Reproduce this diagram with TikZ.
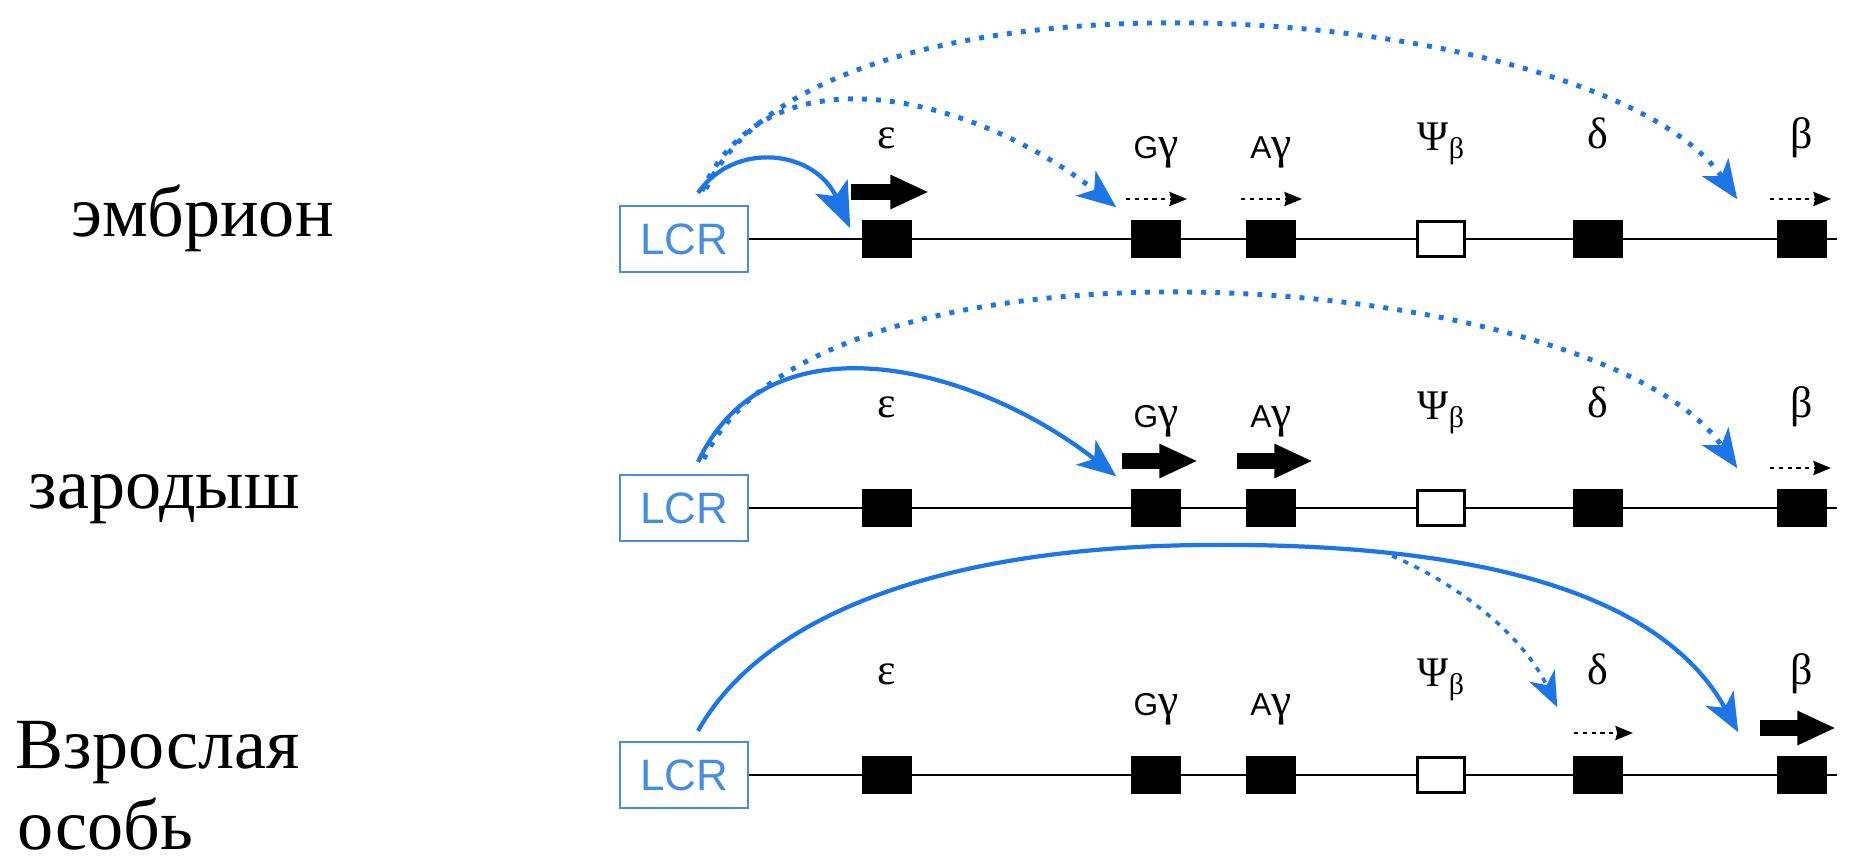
\documentclass[tikz,border=0pt]{standalone}
\usepackage{fontspec}
\setmainfont{Liberation Serif}
\setsansfont{Liberation Sans}
\usetikzlibrary{arrows.meta,calc}
\definecolor{arcblue}{RGB}{28,118,232}
\definecolor{lcrblue}{RGB}{70,140,225}
\begin{document}
\begin{tikzpicture}[x=0.01cm,y=-0.01cm,
  lcr/.style={draw=lcrblue, line width=0.6pt, text=lcrblue, font=\sffamily\fontsize{12.5}{12.5}\selectfont, minimum width=1.28cm, minimum height=0.66cm, inner sep=0pt},
  gene/.style={fill=black, minimum width=0.5cm, minimum height=0.38cm, inner sep=0pt},
  pseudo/.style={draw=black, fill=white, line width=0.9pt, minimum width=0.47cm, minimum height=0.35cm, inner sep=0pt},
  chrom/.style={line width=0.6pt},
  stagelbl/.style={font=\fontsize{20.5}{24}\selectfont, anchor=base west, inner sep=0pt},
  glbl/.style={font=\fontsize{12.5}{14}\selectfont, anchor=base, inner sep=0pt},
  boldarr/.style={line width=4.3pt, -{Triangle[length=11pt,width=9pt]}},
  dotarr/.style={line width=0.6pt, dash pattern=on 1.2pt off 1.3pt, -{Stealth[length=5pt,width=4pt,inset=0.5pt]}},
  bsolid/.style={arcblue, line width=1.2pt, -{Stealth[length=11pt,width=9pt,inset=3pt]}},
  bdot/.style={arcblue, line width=1.4pt, dash pattern=on 1.4pt off 2.6pt, -{Stealth[length=11pt,width=9pt,inset=3pt]}},
  bdotthin/.style={arcblue, line width=1pt, dash pattern=on 1.5pt off 2pt, -{Stealth[length=10pt,width=8pt,inset=3pt]}},
]
\useasboundingbox (0,0) rectangle (1851,860);
\fill[white] (0,0) rectangle (1851,860);

% stage labels
\node[stagelbl] (s1) at (71,236) {эмбрион};
\node[stagelbl] (s2) at (28,508) {зародыш};
\node[stagelbl] (s3) at (15,768) {Взрослая};
\node[stagelbl] (s4) at (17,849) {особь};

\newcommand{\gsf}{\sffamily\fontsize{9}{9}\selectfont}
\newcommand{\gam}{{\fontsize{13}{13}\selectfont γ}}
\newcommand{\psisym}{{\fontsize{12}{12}\selectfont Ψ}\raisebox{-2.5pt}{\fontsize{8.5}{8.5}\selectfont β}}

\foreach \r/\ly in {1/239,2/508,3/775}{
  \pgfmathsetmacro{\gaoff}{(\r==3) ? 21 : 0}
  \node[lcr] (lcr\r) at (684,\ly) {LCR};
  \coordinate (end\r) at (1837,\ly);
  \draw[chrom] (lcr\r) -- (end\r);
  \node[gene] (e\r) at (887,\ly) {};
  \node[gene] (G\r) at (1156,\ly) {};
  \node[gene] (A\r) at (1271,\ly) {};
  \node[pseudo] (P\r) at (1441,\ly) {};
  \node[gene] (d\r) at (1598,\ly) {};
  \node[gene] (b\r) at (1802,\ly) {};
  \node[glbl] (le\r) at (887,\ly-91) {ε};
  \node[glbl] (lG\r) at (1156,\ly-81+\gaoff) {{\gsf G}\gam};
  \node[glbl] (lA\r) at (1271,\ly-81+\gaoff) {{\gsf A}\gam};
  \node[glbl] (lP\r) at (1441,\ly-89) {\psisym};
  \node[glbl] (ld\r) at (1598,\ly-91) {δ};
  \node[glbl] (lb\r) at (1802,\ly-91) {β};
}

% transcription arrows
\draw[boldarr] ($(e1)+(-36,-47)$) -- ($(e1)+(42,-47)$);
\draw[dotarr] ($(G1)+(-30,-40)$) -- ($(G1)+(31,-40)$);
\draw[dotarr] ($(A1)+(-30,-40)$) -- ($(A1)+(31,-40)$);
\draw[dotarr] ($(b1)+(-32,-40)$) -- ($(b1)+(29,-40)$);

\draw[boldarr] ($(G2)+(-34,-47)$) -- ($(G2)+(42,-47)$);
\draw[boldarr] ($(A2)+(-34,-47)$) -- ($(A2)+(42,-47)$);
\draw[dotarr] ($(b2)+(-32,-40)$) -- ($(b2)+(29,-40)$);

\draw[dotarr] ($(d3)+(-24,-42)$) -- ($(d3)+(35,-42)$);
\draw[boldarr] ($(b3)+(-42,-47)$) -- ($(b3)+(34,-47)$);

% row 1 LCR arcs
\coordinate (o1) at ($(lcr1.north)+(14,-12)$);
\coordinate (t1e) at ($(e1.north west)+(-11,9)$);
\coordinate (t1g) at ($(G1.north west)+(-14,-12)$);
\coordinate (t1b) at ($(b1.north west)+(-39,-20)$);
\draw[bdot] ($(o1)+(8,-4)$) .. controls (820,-60) and (1600,0) .. (t1b);
\draw[bdot] ($(o1)+(4,-2)$) .. controls (770,40) and (980,100) .. (t1g);
\draw[bsolid, -{Stealth[length=13pt,width=10pt,inset=3pt]}] (o1) .. controls (735,140) and (815,150) .. (t1e);

% row 2 LCR arcs
\coordinate (o2) at ($(lcr2.north)+(14,-12)$);
\coordinate (t2g) at ($(G2.north west)+(-14,-12)$);
\coordinate (t2b) at ($(b2.north west)+(-39,-20)$);
\draw[bdot] ($(o2)+(6,-3)$) .. controls (820,209) and (1600,269) .. (t2b);
\draw[bsolid] (o2) .. controls (770,309) and (980,369) .. (t2g);

% row 3 LCR arcs
\coordinate (o3) at ($(lcr3.north)+(14,-10)$);
\coordinate (t3b) at ($(b3.north west)+(-38,-23)$);
\coordinate (t3d) at ($(d3.north west)+(-15,-48)$);
\coordinate (br3) at (1392,556);
\draw[bsolid] (o3) .. controls (760,620) and (930,548) .. (1200,545) .. controls (1470,542) and (1660,590) .. (t3b);
\draw[bdotthin] (br3) .. controls (1450,580) and (1520,630) .. (t3d);
\end{tikzpicture}
\end{document}
